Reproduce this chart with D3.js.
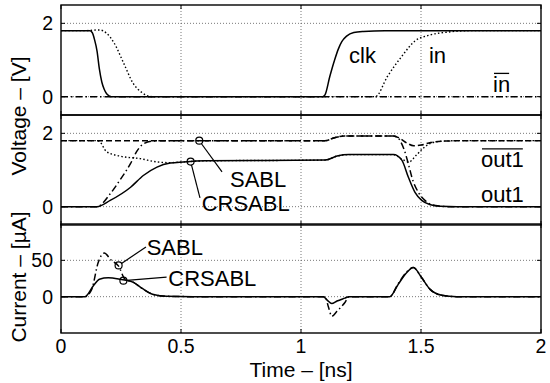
<!DOCTYPE html>
<html>
<head>
<meta charset="utf-8">
<script src="https://cdn.jsdelivr.net/npm/d3@7"></script>
<style>
  body { margin: 0; background: #fff; }
  svg { display: block; font-family: "Liberation Sans", Arial, sans-serif; }
</style>
</head>
<body>
<svg id="chart" width="550" height="383"></svg>
<script>
// ---- data (time in ns) ----
const clkT = [0, 0.12, 0.13, 0.14, 0.15, 0.16, 0.17, 0.18, 0.19, 0.21, 1.09, 1.10, 1.12, 1.14, 1.155, 1.17, 1.19, 1.22, 1.26, 1.35, 2];
const clkV = [1.8, 1.8, 1.75, 1.55, 1.25, 0.75, 0.4, 0.2, 0.08, 0, 0, 0.05, 0.55, 1.0, 1.29, 1.5, 1.65, 1.75, 1.78, 1.8, 1.8];
const inT = [0, 0.1, 0.16, 0.22, 0.26, 0.3, 0.34, 0.38, 1.31, 1.36, 1.42, 1.475, 1.53, 1.61, 1.7, 2];
const inV = [1.8, 1.8, 1.82, 1.48, 0.93, 0.37, 0.1, 0, 0, 0.55, 1.1, 1.52, 1.67, 1.76, 1.8, 1.8];
const inbT = [0, 2];
const inbV = [0, 0];

const sablOutT = [0, 0.15, 0.205, 0.245, 0.29, 0.315, 0.343, 0.385, 0.42, 1.1, 1.14, 1.18, 1.385, 1.40, 1.43, 1.45, 1.462, 1.49, 1.52, 1.56, 1.62, 2];
const sablOutV = [0, 0, 0.35, 0.72, 1.18, 1.5, 1.71, 1.79, 1.8, 1.8, 1.88, 1.93, 1.93, 1.9, 1.55, 1.1, 0.8, 0.38, 0.15, 0.03, 0, 0];
const sablOutbT = [0, 1.1, 1.14, 1.18, 1.385, 1.41, 1.44, 1.47, 1.5, 1.54, 1.6, 1.7, 2];
const sablOutbV = [1.8, 1.8, 1.88, 1.93, 1.93, 1.87, 1.74, 1.66, 1.68, 1.75, 1.79, 1.8, 1.8];
const crOutT = [0, 0.15, 0.205, 0.29, 0.343, 0.4, 0.455, 0.51, 0.6, 1.1, 1.15, 1.2, 1.385, 1.42, 1.447, 1.475, 1.503, 1.54, 1.58, 1.65, 2];
const crOutV = [0, 0, 0.17, 0.53, 0.85, 1.08, 1.19, 1.22, 1.25, 1.27, 1.38, 1.42, 1.42, 1.27, 0.81, 0.39, 0.17, 0.05, 0.01, 0, 0];
const crOutbT = [0, 0.15, 0.16, 0.19, 0.245, 0.33, 0.4, 0.455, 0.51, 0.6, 1.1, 1.15, 1.2, 1.385, 1.42, 1.45, 1.48, 1.51, 1.54, 1.58, 1.65, 2];
const crOutbV = [1.8, 1.8, 1.78, 1.5, 1.38, 1.31, 1.22, 1.2, 1.22, 1.25, 1.27, 1.38, 1.42, 1.42, 1.3, 1.22, 1.4, 1.6, 1.73, 1.78, 1.8, 1.8];

const sablIT = [0, 0.1, 0.128, 0.155, 0.18, 0.21, 0.24, 0.267, 0.3, 0.34, 0.385, 0.44, 0.55, 1.1, 1.115, 1.128, 1.15, 1.183, 1.2, 1.37, 1.405, 1.44, 1.468, 1.503, 1.538, 1.586, 1.65, 2];
const sablIV = [0, 0, 10, 47, 60, 50, 42, 24, 20, 11, 3, 0.5, 0, 0, -15, -27, -20, -8, 0, 0, 18, 34, 40, 26, 10, 2, 0, 0];
const crIT = [0, 0.1, 0.135, 0.16, 0.197, 0.246, 0.3, 0.34, 0.385, 0.44, 0.55, 1.093, 1.11, 1.128, 1.15, 1.183, 1.2, 1.37, 1.405, 1.44, 1.468, 1.503, 1.538, 1.586, 1.65, 2];
const crIV = [0, 0, 15, 24, 26, 24, 20, 11, 3, 0.5, 0, 0, -5, -9.5, -6, -2, 0, 0, 17, 33, 40, 26, 10, 2, 0, 0];

const xTicks = [0, 0.5, 1, 1.5, 2];
const vTicks = [0, 2];
const iTicks = [0, 50];

// ---- layout ----
const svg = d3.select("#chart");
const x = d3.scaleLinear().domain([0, 2]).range([61, 541]);
const panels = [
  { top: 5, bottom: 115, domain: [-0.5, 2.5], ticks: vTicks },
  { top: 115, bottom: 225, domain: [-0.5, 2.5], ticks: vTicks },
  { top: 224, bottom: 333, domain: [-50, 100], ticks: iTicks }
];
panels.forEach(p => { p.y = d3.scaleLinear().domain(p.domain).range([p.bottom, p.top]); });

const styles = {
  solid: null,
  dotted: "1.5,2.2",
  dashed: "6,3",
  dashdot: "7,3,1.5,3"
};

function zip(t, v) { return t.map((d, i) => [d, v[i]]); }

// grid, ticks, frames
panels.forEach(p => {
  const g = svg.append("g");
  g.selectAll(".vg").data(xTicks.slice(1, -1)).enter().append("line")
    .attr("x1", d => x(d)).attr("x2", d => x(d))
    .attr("y1", p.top).attr("y2", p.bottom)
    .attr("stroke", "#555").attr("stroke-width", 0.8).attr("stroke-dasharray", "1,2");
  g.selectAll(".hg").data(p.ticks).enter().append("line")
    .attr("x1", x(0)).attr("x2", x(2))
    .attr("y1", d => p.y(d)).attr("y2", d => p.y(d))
    .attr("stroke", "#555").attr("stroke-width", 0.8).attr("stroke-dasharray", "1,2");
  // inward ticks on all four sides
  g.selectAll(".yt").data(p.ticks).enter().append("path")
    .attr("d", d => `M${x(0)},${p.y(d)}h4M${x(2)},${p.y(d)}h-4`)
    .attr("stroke", "#000").attr("stroke-width", 1);
  g.selectAll(".xt").data(xTicks).enter().append("path")
    .attr("d", d => `M${x(d)},${p.bottom}v-4M${x(d)},${p.top}v4`)
    .attr("stroke", "#000").attr("stroke-width", 1);
  g.selectAll(".yl").data(p.ticks).enter().append("text")
    .attr("x", 53).attr("y", d => p.y(d) + 7)
    .attr("text-anchor", "end").attr("font-size", 19.5)
    .text(d => d);
  g.append("rect")
    .attr("x", x(0)).attr("y", p.top)
    .attr("width", x(2) - x(0)).attr("height", p.bottom - p.top)
    .attr("fill", "none").attr("stroke", "#000").attr("stroke-width", 1.4);
});

// x tick labels
svg.selectAll(".xl").data(xTicks).enter().append("text")
  .attr("x", d => x(d)).attr("y", 353)
  .attr("text-anchor", "middle").attr("font-size", 19.5)
  .text(d => d);

// axis titles
svg.append("text").attr("x", 301).attr("y", 377)
  .attr("text-anchor", "middle").attr("font-size", 21)
  .text("Time \u2013 [ns]");
svg.append("text").attr("transform", "translate(26,116)rotate(-90)")
  .attr("text-anchor", "middle").attr("font-size", 21)
  .text("Voltage \u2013 [V]");
svg.append("text").attr("transform", "translate(26,277)rotate(-90)")
  .attr("text-anchor", "middle").attr("font-size", 21)
  .text("Current \u2013 [\u00b5A]");

// curves
const series = [
  { p: 0, t: inT, v: inV, s: "dotted" },
  { p: 0, t: inbT, v: inbV, s: "dashdot" },
  { p: 0, t: clkT, v: clkV, s: "solid" },
  { p: 1, t: crOutbT, v: crOutbV, s: "dotted" },
  { p: 1, t: sablOutbT, v: sablOutbV, s: "dashed" },
  { p: 1, t: crOutT, v: crOutV, s: "solid" },
  { p: 1, t: sablOutT, v: sablOutV, s: "dashdot" },
  { p: 2, t: crIT, v: crIV, s: "solid" },
  { p: 2, t: sablIT, v: sablIV, s: "dashdot" }
];
series.forEach(sr => {
  const y = panels[sr.p].y;
  const line = d3.line().x(d => x(d[0])).y(d => y(d[1])).curve(d3.curveMonotoneX);
  svg.append("path")
    .attr("d", line(zip(sr.t, sr.v)))
    .attr("fill", "none").attr("stroke", "#000")
    .attr("stroke-width", sr.s === "dotted" ? 1.4 : 1.5)
    .attr("stroke-dasharray", styles[sr.s]);
});

// curve labels (data coords)
const curveLabels = [
  { p: 0, t: 1.2, v: 0.91, text: "clk", bar: false },
  { p: 0, t: 1.533, v: 0.91, text: "in", bar: false },
  { p: 0, t: 1.8, v: 0.13, text: "in", bar: true },
  { p: 1, t: 1.75, v: 1.07, text: "out1", bar: true },
  { p: 1, t: 1.75, v: 0.14, text: "out1", bar: false }
];
curveLabels.forEach(l => {
  const y = panels[l.p].y;
  const txt = svg.append("text").attr("x", x(l.t)).attr("y", y(l.v))
    .attr("font-size", 22).text(l.text);
  if (l.bar) {
    const b = txt.node().getBBox();
    svg.append("line")
      .attr("x1", b.x + 1).attr("x2", b.x + b.width - 1)
      .attr("y1", b.y + 1.5).attr("y2", b.y + 1.5)
      .attr("stroke", "#000").attr("stroke-width", 1.3);
  }
});

// annotations: circle on curve, leader line, label
const notes = [
  { p: 1, t: 0.576, v: 1.8, lt: 0.671, lv: 0.95, tt: 0.704, tv: 0.55, text: "SABL" },
  { p: 1, t: 0.54, v: 1.23, lt: 0.579, lv: 0.24, tt: 0.586, tv: -0.12, text: "CRSABL" },
  { p: 2, t: 0.24, v: 43, lt: 0.354, lv: 68.4, tt: 0.357, tv: 57.4, text: "SABL" },
  { p: 2, t: 0.26, v: 22, lt: 0.44, lv: 27, tt: 0.447, tv: 14, text: "CRSABL" }
];
notes.forEach(n => {
  const y = panels[n.p].y;
  const cx = x(n.t), cy = y(n.v), lx = x(n.lt), ly = y(n.lv);
  const a = Math.atan2(ly - cy, lx - cx), r = 3.5;
  svg.append("line")
    .attr("x1", cx + r * Math.cos(a)).attr("y1", cy + r * Math.sin(a))
    .attr("x2", lx).attr("y2", ly)
    .attr("stroke", "#000").attr("stroke-width", 1.2);
  svg.append("circle").attr("cx", cx).attr("cy", cy).attr("r", r)
    .attr("fill", "none").attr("stroke", "#000").attr("stroke-width", 1.2);
  svg.append("text").attr("x", x(n.tt)).attr("y", y(n.tv))
    .attr("font-size", 22).text(n.text);
});
</script>
</body>
</html>
